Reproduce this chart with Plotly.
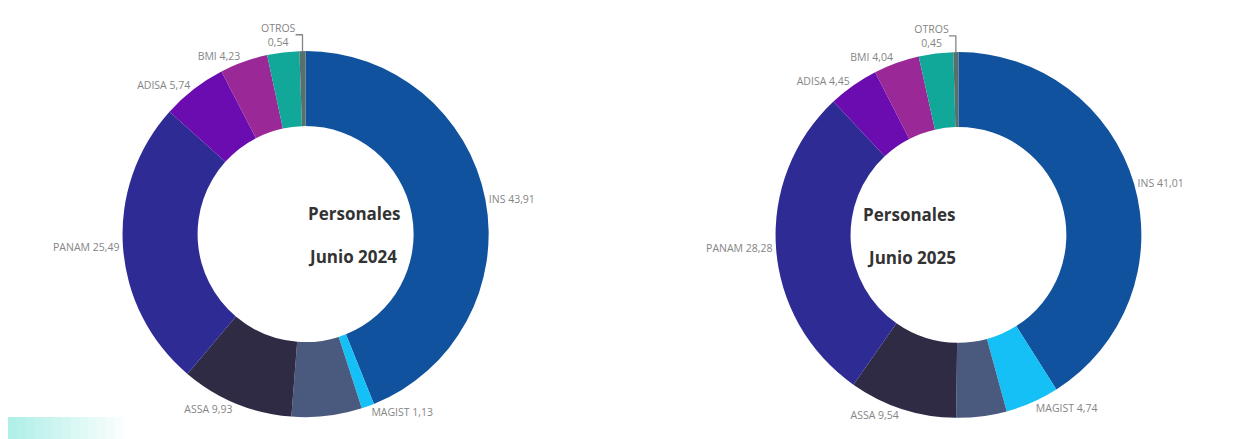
import plotly.graph_objects as go

# Data
categories = ["INS", "MAGIST", "OTRA1", "ASSA", "PANAM", "ADISA", "BMI", "OTRA2", "OTROS"]
values_2024 = [43.91, 1.13, 6.20, 9.93, 25.49, 5.74, 4.23, 2.83, 0.54]
values_2025 = [41.01, 4.74, 4.45, 9.54, 28.28, 4.45, 4.04, 3.04, 0.45]
shown_labels = ["INS", "MAGIST", "", "ASSA", "PANAM", "ADISA", "BMI", "", "OTROS"]
titles = ["Personales", "Junio 2024", "Personales", "Junio 2025"]

colors = ["#11529E", "#14C0F5", "#4A5A7E", "#2F2B45", "#2E2C94",
          "#6A0CB0", "#9A2896", "#11A89A", "#56706E"]


def fmt(v):
    return f"{v:.2f}".replace(".", ",")


def make_text(vals):
    out = []
    for lab, v in zip(shown_labels, vals):
        if lab == "":
            out.append("")
        elif lab == "OTROS":
            out.append(f"{lab}<br>{fmt(v)}")
        else:
            out.append(f"{lab} {fmt(v)}")
    return out


W, H = 1240, 439
fig = go.Figure()

domains = [
    dict(x=[0.092, 0.388], y=[0.068, 0.902]),
    dict(x=[0.619, 0.914], y=[0.066, 0.900]),
]

for vals, dom in zip([values_2024, values_2025], domains):
    fig.add_trace(go.Pie(
        labels=categories,
        values=vals,
        text=make_text(vals),
        textinfo="text",
        textposition="outside",
        hole=0.59,
        sort=False,
        direction="clockwise",
        rotation=0,
        marker=dict(colors=colors, line=dict(width=0)),
        textfont=dict(family="Open Sans", size=10.5, color="#858585"),
        domain=dom,
        showlegend=False,
        hoverinfo="label+value",
    ))

annotations = []
for i, dom in enumerate(domains):
    cx = (dom["x"][0] + dom["x"][1]) / 2
    cy = (dom["y"][0] + dom["y"][1]) / 2
    annotations.append(dict(x=cx, y=cy + 0.046, xref="paper", yref="paper",
                            text=f"<b>{titles[2*i]}</b>", showarrow=False,
                            font=dict(family="Open Sans", size=17, color="#333333")))
    annotations.append(dict(x=cx, y=cy - 0.052, xref="paper", yref="paper",
                            text=f"<b>{titles[2*i+1]}</b>", showarrow=False,
                            font=dict(family="Open Sans", size=17, color="#333333")))

# decorative gradient strip bottom-left
shapes = []
steps = 14
x0, x1 = 0, 125
for k in range(steps):
    t = k / (steps - 1)
    r = int(176 + (255 - 176) * t)
    g = int(240 + (255 - 240) * t)
    b = int(232 + (255 - 232) * t)
    shapes.append(dict(type="rect", xref="paper", yref="paper",
                       x0=(x0 + (x1 - x0) * k / steps) / W,
                       x1=(x0 + (x1 - x0) * (k + 1) / steps + 0.5) / W,
                       y0=0, y1=30 / H,
                       fillcolor=f"rgb({r},{g},{b})", line=dict(width=0), layer="below"))
shapes.append(dict(type="rect", xref="paper", yref="paper",
                   x0=1231 / W, x1=1, y0=0, y1=21 / H,
                   fillcolor="#eafaf7", line=dict(width=0), layer="below"))

fig.update_layout(
    width=W, height=H,
    margin=dict(l=0, r=0, t=0, b=0),
    paper_bgcolor="white",
    plot_bgcolor="white",
    annotations=annotations,
    shapes=shapes,
)

fig.write_html("out.html")
